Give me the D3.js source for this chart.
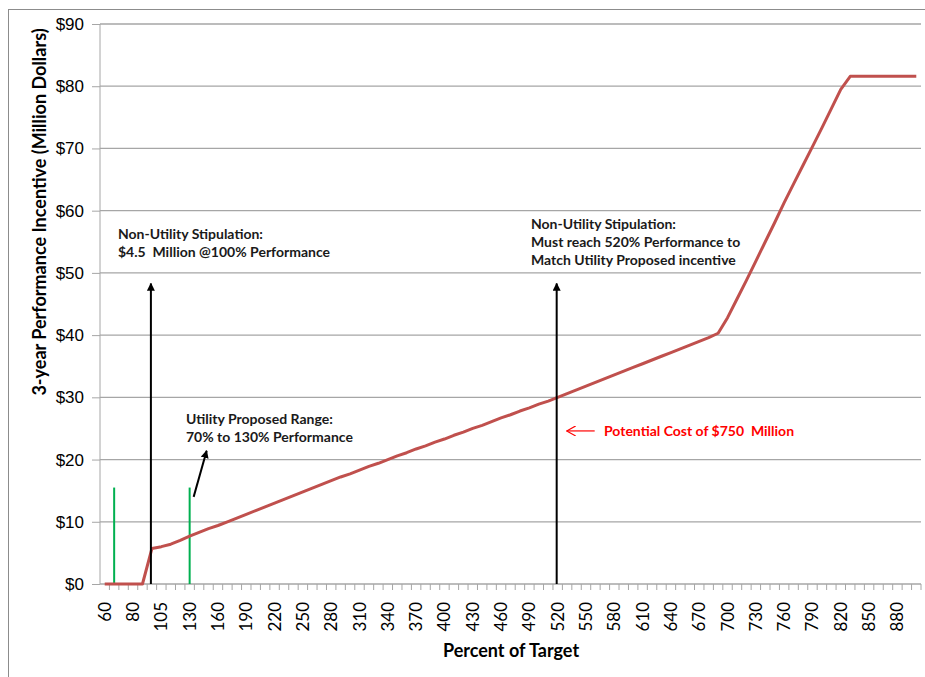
<!DOCTYPE html>
<html>
<head>
<meta charset="utf-8">
<script src="https://cdn.jsdelivr.net/npm/d3@7"></script>
<style>
  body { margin: 0; background: #fff; }
  svg { font-family: Lato, "Open Sans", sans-serif; }
  .axis text { font-size: 17px; fill: #000; }
  .axis line { stroke: #a6a6a6; }
  .axis .domain { stroke: #a6a6a6; }
  .note { font-size: 14px; font-weight: bold; fill: #1a1a1a; white-space: pre; }
</style>
</head>
<body>
<div id="chart"></div>
<script>
// percent of target (category axis)
var categories = ["60","70","75","80","90","100","105","110","120","130",
  "140","150","160","170","180","190","200","210","220","230",
  "240","250","260","270","280","290","300","310","320","330",
  "340","350","360","370","380","390","400","410","420","430",
  "440","450","460","470","480","490","500","510","520","530",
  "540","550","560","570","580","590","600","610","620","630",
  "640","650","660","670","680","690","700","710","720","730",
  "740","750","760","770","780","790","800","810","820","830",
  "840","850","860","870","880","890","900"];

// 3-year incentive, million dollars
var incentive = [0,0,0,0,0,5.7,6.0,6.4,7.0,7.7,
  8.3,8.9,9.4,10.0,10.6,11.2,11.8,12.4,13.0,13.6,
  14.2,14.8,15.4,16.0,16.6,17.2,17.7,18.3,18.9,19.4,
  20.0,20.6,21.1,21.7,22.2,22.8,23.3,23.9,24.4,25.0,
  25.5,26.1,26.7,27.2,27.8,28.3,28.9,29.4,30.0,30.6,
  31.2,31.8,32.4,33.0,33.6,34.2,34.8,35.4,36.0,36.6,
  37.2,37.8,38.4,39.0,39.6,40.3,42.8,45.8,48.8,51.9,
  55.0,58.1,61.3,64.3,67.3,70.3,73.3,76.4,79.5,81.6,
  81.6,81.6,81.6,81.6,81.6,81.6,81.6];

var xTickLabels = ["60","80","105","130","160","190","220","250","280","310","340","370",
  "400","430","460","490","520","550","580","610","640","670","700","730","760","790",
  "820","850","880"];
var yTicks = [0,10,20,30,40,50,60,70,80,90];

// annotation markers
var rangeMarks = ["70","130"];
var rangeTop = 15.5;
var arrowMarks = ["100","520"];
var arrowTop = 48.3;

var W = 925, H = 677;
var m = {l:100, r:4, t:24, b:93};

var svg = d3.select('#chart').append('svg')
  .attr('width', W)
  .attr('height', H);

var defs = svg.append('defs');
defs.append('marker')
  .attr('id','head')
  .attr('viewBox','0 0 10 10')
  .attr('refX',9).attr('refY',5)
  .attr('markerWidth',4).attr('markerHeight',4)
  .attr('markerUnits','strokeWidth')
  .attr('orient','auto')
  .append('path').attr('d','M0,0L10,5L0,10z').attr('fill','#000');
defs.append('marker')
  .attr('id','openhead')
  .attr('viewBox','0 0 10 10')
  .attr('refX',9).attr('refY',5)
  .attr('markerWidth',10).attr('markerHeight',10)
  .attr('markerUnits','userSpaceOnUse')
  .attr('orient','auto')
  .append('path').attr('d','M0,0L9,5L0,10').attr('fill','none')
    .attr('stroke','red').attr('stroke-width',1.2);

// outer frame
svg.append('rect')
  .attr('x',8.5).attr('y',9.5)
  .attr('width',W+20).attr('height',H+20)
  .attr('fill','none').attr('stroke','#8c8c8c');

var x = d3.scaleBand()
  .domain(categories)
  .range([m.l, W-m.r])
  .padding(0);

var y = d3.scaleLinear()
  .domain([0,90])
  .range([H-m.b, m.t]);

var cx = function(c){ return x(c) + x.bandwidth()/2; };

// gridlines
svg.append('g')
  .selectAll('line')
  .data(yTicks.slice(1))
  .enter().append('line')
    .attr('x1', m.l).attr('x2', W-m.r)
    .attr('y1', d=>y(d)).attr('y2', d=>y(d))
    .attr('stroke','#a6a6a6').attr('stroke-width',1.3);

// y axis
var yAxis = d3.axisLeft(y)
  .tickValues(yTicks)
  .tickSize(8)
  .tickPadding(8)
  .tickFormat(d=>'$'+d);
svg.append('g')
  .attr('class','axis y')
  .attr('transform','translate('+m.l+',0)')
  .call(yAxis)
  .call(g=>g.select('.domain').attr('d','M0,'+y(90)+'V'+y(0)));

// x axis: ticks on category boundaries, labels on every third category
var xg = svg.append('g')
  .attr('class','axis x')
  .attr('transform','translate(0,'+y(0)+')');
xg.append('line')
  .attr('x1',m.l).attr('x2',W-m.r)
  .attr('stroke','#a6a6a6').attr('stroke-width',1.3);
xg.selectAll('.tk')
  .data(categories)
  .enter().append('line')
    .attr('class','tk')
    .attr('x1', d=>x(d)+x.bandwidth()).attr('x2', d=>x(d)+x.bandwidth())
    .attr('y1',0).attr('y2',6);
xg.selectAll('text')
  .data(xTickLabels)
  .enter().append('text')
    .attr('transform', d=>'translate('+(cx(d)+6)+',18) rotate(-90)')
    .attr('text-anchor','end')
    .text(d=>d);

// green range markers
svg.append('g')
  .selectAll('line')
  .data(rangeMarks)
  .enter().append('line')
    .attr('x1', d=>cx(d)).attr('x2', d=>cx(d))
    .attr('y1', y(0)).attr('y2', y(rangeTop))
    .attr('stroke','#00b050').attr('stroke-width',2);

// incentive line
var line = d3.line()
  .x((d,i)=>cx(categories[i]))
  .y(d=>y(d));
svg.append('path')
  .datum(incentive)
  .attr('d', line)
  .attr('fill','none')
  .attr('stroke','#c0504d')
  .attr('stroke-width',3)
  .attr('stroke-linejoin','round');

// black arrows
svg.append('g')
  .selectAll('line')
  .data(arrowMarks)
  .enter().append('line')
    .attr('x1', d=>cx(d)-1).attr('x2', d=>cx(d)-1)
    .attr('y1', y(0)).attr('y2', y(arrowTop))
    .attr('stroke','#000').attr('stroke-width',2)
    .attr('marker-end','url(#head)');

// short arrow pointing at range note
svg.append('line')
  .attr('x1', cx('130')+4).attr('y1', y(14.0))
  .attr('x2', cx('130')+17).attr('y2', y(21.4))
  .attr('stroke','#000').attr('stroke-width',2)
  .attr('marker-end','url(#head)');

// red arrow for potential cost
svg.append('line')
  .attr('x1', cx('520')+37).attr('y1', y(24.6))
  .attr('x2', cx('520')+9).attr('y2', y(24.6))
  .attr('stroke','red').attr('stroke-width',1.2)
  .attr('marker-end','url(#openhead)');

function note(lines, px, py, color) {
  var t = svg.append('text').attr('class','note');
  if (color) t.style('fill', color);
  lines.forEach(function(s,i){
    t.append('tspan').attr('x',px).attr('y',py+i*18).text(s);
  });
}
note(['Non-Utility Stipulation:','$4.5  Million @100% Performance'], 118, 239);
note(['Non-Utility Stipulation:','Must reach 520% Performance to','Match Utility Proposed incentive'], 531, 229);
note(['Utility Proposed Range:','70% to 130% Performance'], 186, 424);
note(['Potential Cost of $750  Million'], 604, 436, 'red');

// axis titles
svg.append('text')
  .attr('transform','translate(46,212) rotate(-90)')
  .attr('text-anchor','middle')
  .style('font-size','18px').style('font-weight','bold')
  .text('3-year Performance Incentive (Million Dollars)');
svg.append('text')
  .attr('x', 511)
  .attr('y', 657)
  .attr('text-anchor','middle')
  .style('font-size','18px').style('font-weight','bold')
  .text('Percent of Target');
</script>
</body>
</html>
